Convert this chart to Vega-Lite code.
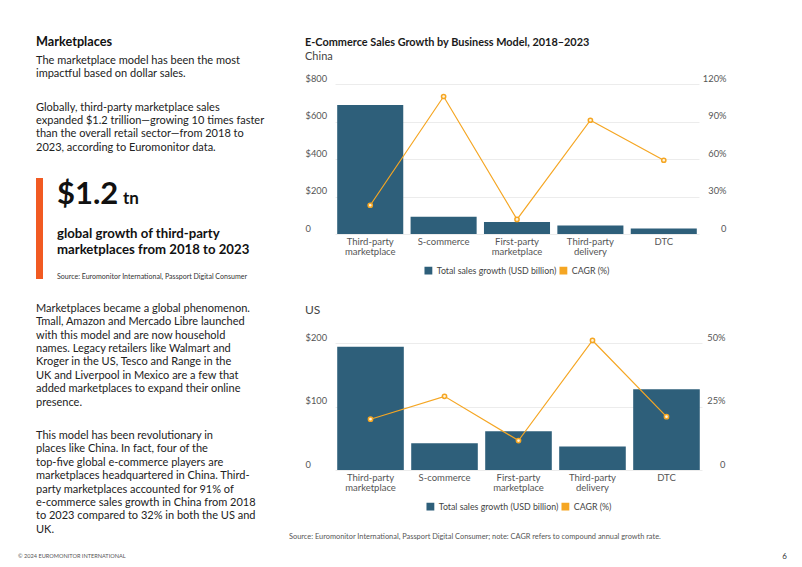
{
  "$schema": "https://vega.github.io/schema/vega-lite/v6.json",
  "background": "white",
  "padding": {"left": 18, "top": 35, "right": 10, "bottom": 4},
  "config": {
    "font": "Lato",
    "view": {"stroke": null},
    "axis": {"labelFont": "Lato"},
    "legend": {"labelFont": "Lato", "layout": {"bottom": {"anchor": "middle"}}},
    "title": {"font": "Lato", "subtitleFont": "Lato"}
  },
  "title": {"text": "6", "orient": "bottom", "anchor": "end", "frame": "bounds", "dx": 61, "offset": -7, "fontSize": 8, "fontWeight": "normal", "color": "#333333"},
  "spacing": 3,
  "hconcat": [
    {
      "width": 250,
      "height": 475,
      "data": {"values": [
        {"part": "heading", "line": 0, "text": "Marketplaces"},
        {"part": "body", "line": 1.4, "text": "The marketplace model has been the most"},
        {"part": "body", "line": 2.4, "text": "impactful based on dollar sales."},
        {"part": "body", "line": 4.9, "text": "Globally, third-party marketplace sales"},
        {"part": "body", "line": 5.9, "text": "expanded $1.2 trillion—growing 10 times faster"},
        {"part": "body", "line": 6.9, "text": "than the overall retail sector—from 2018 to"},
        {"part": "body", "line": 7.9, "text": "2023, according to Euromonitor data."},
        {"part": "big", "line": 12.1, "text": "$1.2"},
        {"part": "unit", "line": 12.1, "text": "tn"},
        {"part": "callout", "line": 14.35, "text": "global growth of third-party"},
        {"part": "callout", "line": 15.55, "text": "marketplaces from 2018 to 2023"},
        {"part": "note", "line": 17.55, "text": "Source: Euromonitor International, Passport Digital Consumer"},
        {"part": "body", "line": 19.92, "text": "Marketplaces became a global phenomenon."},
        {"part": "body", "line": 20.92, "text": "Tmall, Amazon and Mercado Libre launched"},
        {"part": "body", "line": 21.92, "text": "with this model and are now household"},
        {"part": "body", "line": 22.92, "text": "names. Legacy retailers like Walmart and"},
        {"part": "body", "line": 23.92, "text": "Kroger in the US, Tesco and Range in the"},
        {"part": "body", "line": 24.92, "text": "UK and Liverpool in Mexico are a few that"},
        {"part": "body", "line": 25.92, "text": "added marketplaces to expand their online"},
        {"part": "body", "line": 26.92, "text": "presence."},
        {"part": "body", "line": 29.42, "text": "This model has been revolutionary in"},
        {"part": "body", "line": 30.42, "text": "places like China. In fact, four of the"},
        {"part": "body", "line": 31.42, "text": "top-five global e-commerce players are"},
        {"part": "body", "line": 32.42, "text": "marketplaces headquartered in China. Third-"},
        {"part": "body", "line": 33.42, "text": "party marketplaces accounted for 91% of"},
        {"part": "body", "line": 34.42, "text": "e-commerce sales growth in China from 2018"},
        {"part": "body", "line": 35.42, "text": "to 2023 compared to 32% in both the US and"},
        {"part": "body", "line": 36.42, "text": "UK."},
        {"part": "footer", "line": 38.4, "text": "© 2024 EUROMONITOR INTERNATIONAL"}
      ]},
      "encoding": {
        "x": {"datum": 0, "type": "quantitative", "scale": {"domain": [0, 250], "nice": false, "zero": false}, "axis": null},
        "y": {"field": "line", "type": "quantitative", "scale": {"domain": [3.14, 38.6], "reverse": true, "nice": false, "zero": false}, "axis": null}
      },
      "layer": [
        {
          "transform": [{"filter": "indexof(['big','callout','note'], datum.part) >= 0"}],
          "mark": {"type": "rule", "color": "#F15A22", "strokeWidth": 7, "yOffset": -26, "y2Offset": 2},
          "encoding": {
            "x": {"datum": 3.5, "type": "quantitative"},
            "y": {"aggregate": "min", "field": "line", "type": "quantitative"},
            "y2": {"aggregate": "max", "field": "line"}
          }
        },
        {
          "transform": [{"filter": "datum.part == 'heading'"}],
          "mark": {"type": "text", "align": "left", "baseline": "middle", "fontSize": 12.7, "fontWeight": "bold", "color": "#111111"},
          "encoding": {"text": {"field": "text"}}
        },
        {
          "transform": [{"filter": "datum.part == 'body'"}],
          "mark": {"type": "text", "align": "left", "baseline": "middle", "fontSize": 11, "color": "#222222"},
          "encoding": {"text": {"field": "text"}}
        },
        {
          "transform": [{"filter": "datum.part == 'big'"}],
          "mark": {"type": "text", "align": "left", "baseline": "alphabetic", "fontSize": 31, "fontWeight": "bold", "color": "#111111", "dx": 21},
          "encoding": {"text": {"field": "text"}}
        },
        {
          "transform": [{"filter": "datum.part == 'unit'"}],
          "mark": {"type": "text", "align": "left", "baseline": "alphabetic", "fontSize": 17, "fontWeight": "bold", "color": "#111111", "dx": 87},
          "encoding": {"text": {"field": "text"}}
        },
        {
          "transform": [{"filter": "datum.part == 'callout'"}],
          "mark": {"type": "text", "align": "left", "baseline": "middle", "fontSize": 13.2, "fontWeight": "bold", "color": "#111111", "dx": 21},
          "encoding": {"text": {"field": "text"}}
        },
        {
          "transform": [{"filter": "datum.part == 'note'"}],
          "mark": {"type": "text", "align": "left", "baseline": "middle", "fontSize": 7.05, "color": "#333333", "dx": 21},
          "encoding": {"text": {"field": "text"}}
        },
        {
          "transform": [{"filter": "datum.part == 'footer'"}],
          "mark": {"type": "text", "align": "left", "baseline": "middle", "fontSize": 5.6, "color": "#555555", "dx": -18},
          "encoding": {"text": {"field": "text"}}
        }
      ]
    },
    {
      "spacing": 27,
      "resolve": {"scale": {"color": "independent"}},
      "title": {"text": "Source: Euromonitor International, Passport Digital Consumer; note: CAGR refers to compound annual growth rate.", "orient": "bottom", "anchor": "start", "frame": "bounds", "dx": -16, "offset": 20, "fontSize": 7.4, "fontWeight": "normal", "color": "#555555"},
      "vconcat": [
        {
          "width": 364,
          "height": 150,
          "title": {"text": "E-Commerce Sales Growth by Business Model, 2018–2023", "subtitle": "China", "anchor": "start", "frame": "bounds", "fontSize": 10.9, "fontWeight": "bold", "color": "#1a1a1a", "subtitleFontSize": 11, "subtitleColor": "#444444", "subtitlePadding": 3, "offset": 12},
          "data": {"values": [
            {"model": "Third-party marketplace", "sales": 688, "cagr": 0.23},
            {"model": "S-commerce", "sales": 92, "cagr": 1.10},
            {"model": "First-party marketplace", "sales": 64, "cagr": 0.117},
            {"model": "Third-party delivery", "sales": 46, "cagr": 0.91},
            {"model": "DTC", "sales": 30, "cagr": 0.59}
          ]},
          "encoding": {
            "x": {"field": "model", "type": "nominal", "sort": null, "scale": {"paddingInner": 0.1, "paddingOuter": 0.03},
              "axis": {"title": null, "domain": false, "ticks": false, "labelAngle": 0, "labelFontSize": 9.5, "labelColor": "#555555", "labelPadding": 2, "labelLineHeight": 10, "labelExpr": "split(datum.label, ' ')"}}
          },
          "layer": [
            {
              "mark": {"type": "bar"},
              "encoding": {
                "y": {"field": "sales", "type": "quantitative", "scale": {"domain": [0, 800], "nice": false},
                  "axis": {"title": null, "domain": false, "ticks": false, "grid": true, "gridColor": "#ececec", "values": [0, 200, 400, 600, 800], "labelAlign": "left", "labelPadding": 30, "labelBaseline": "alphabetic", "labelOffset": -3, "labelFontSize": 9.3, "labelColor": "#555555", "labelExpr": "datum.value == 0 ? '0' : '$' + datum.value"}},
                "color": {"datum": "Total sales growth (USD billion)", "type": "nominal",
                  "scale": {"domain": ["Total sales growth (USD billion)", "CAGR (%)"], "range": ["#2e5f7a", "#F5A623"]},
                  "legend": {"orient": "bottom", "title": null, "symbolType": "square", "symbolSize": 40, "labelFontSize": 8.8, "labelColor": "#444444", "columnPadding": 0, "offset": 10,
                    "encode": {"symbols": {"update": {"fill": {"signal": "datum.value === 'CAGR (%)' ? '#F5A623' : '#2e5f7a'"}, "stroke": {"value": "transparent"}}}}}}
              }
            },
            {
              "encoding": {
                "y": {"field": "cagr", "type": "quantitative", "scale": {"domain": [0, 1.2], "nice": false},
                  "axis": {"orient": "right", "title": null, "domain": false, "ticks": false, "tickSize": 0, "grid": false, "values": [0, 0.3, 0.6, 0.9, 1.2], "labelAlign": "right", "labelPadding": 27, "labelBaseline": "alphabetic", "labelOffset": -3, "labelFontSize": 9.3, "labelColor": "#555555", "labelExpr": "datum.value == 0 ? '0' : format(datum.value, '.0%')"}}
              },
              "layer": [
                {"mark": {"type": "line", "strokeWidth": 1.2}, "encoding": {"color": {"datum": "CAGR (%)", "type": "nominal"}}},
                {"mark": {"type": "point", "filled": true, "fill": "#fff4dc", "stroke": "#F5A623", "strokeWidth": 1.5, "size": 18, "opacity": 1}}
              ]
            }
          ],
          "resolve": {"scale": {"y": "independent"}}
        },
        {
          "width": 367,
          "height": 127,
          "title": {"text": "US", "anchor": "start", "frame": "bounds", "fontSize": 12, "fontWeight": "normal", "color": "#444444", "offset": 16},
          "data": {"values": [
            {"model": "Third-party marketplace", "sales": 194, "cagr": 0.20},
            {"model": "S-commerce", "sales": 42, "cagr": 0.29},
            {"model": "First-party marketplace", "sales": 61, "cagr": 0.116},
            {"model": "Third-party delivery", "sales": 37, "cagr": 0.51},
            {"model": "DTC", "sales": 127, "cagr": 0.21}
          ]},
          "encoding": {
            "x": {"field": "model", "type": "nominal", "sort": null, "scale": {"paddingInner": 0.1, "paddingOuter": 0.03},
              "axis": {"title": null, "domain": false, "ticks": false, "labelAngle": 0, "labelFontSize": 9.5, "labelColor": "#555555", "labelPadding": 2, "labelLineHeight": 10, "labelExpr": "split(datum.label, ' ')"}}
          },
          "layer": [
            {
              "mark": {"type": "bar"},
              "encoding": {
                "y": {"field": "sales", "type": "quantitative", "scale": {"domain": [0, 200], "nice": false},
                  "axis": {"title": null, "domain": false, "ticks": false, "grid": true, "gridColor": "#ececec", "values": [0, 100, 200], "labelAlign": "left", "labelPadding": 30, "labelBaseline": "alphabetic", "labelOffset": -3, "labelFontSize": 9.3, "labelColor": "#555555", "labelExpr": "datum.value == 0 ? '0' : '$' + datum.value"}},
                "color": {"datum": "Total sales growth (USD billion)", "type": "nominal",
                  "scale": {"domain": ["Total sales growth (USD billion)", "CAGR (%)"], "range": ["#2e5f7a", "#F5A623"]},
                  "legend": {"orient": "bottom", "title": null, "symbolType": "square", "symbolSize": 40, "labelFontSize": 8.8, "labelColor": "#444444", "columnPadding": 0, "offset": 10,
                    "encode": {"symbols": {"update": {"fill": {"signal": "datum.value === 'CAGR (%)' ? '#F5A623' : '#2e5f7a'"}, "stroke": {"value": "transparent"}}}}}}
              }
            },
            {
              "encoding": {
                "y": {"field": "cagr", "type": "quantitative", "scale": {"domain": [0, 0.5], "nice": false},
                  "axis": {"orient": "right", "title": null, "domain": false, "ticks": false, "tickSize": 0, "grid": false, "values": [0, 0.25, 0.5], "labelAlign": "right", "labelPadding": 23, "labelBaseline": "alphabetic", "labelOffset": -3, "labelFontSize": 9.3, "labelColor": "#555555", "labelExpr": "datum.value == 0 ? '0' : format(datum.value, '.0%')"}}
              },
              "layer": [
                {"mark": {"type": "line", "strokeWidth": 1.2}, "encoding": {"color": {"datum": "CAGR (%)", "type": "nominal"}}},
                {"mark": {"type": "point", "filled": true, "fill": "#fff4dc", "stroke": "#F5A623", "strokeWidth": 1.5, "size": 18, "opacity": 1}}
              ]
            }
          ],
          "resolve": {"scale": {"y": "independent"}}
        }
      ]
    }
  ]
}
